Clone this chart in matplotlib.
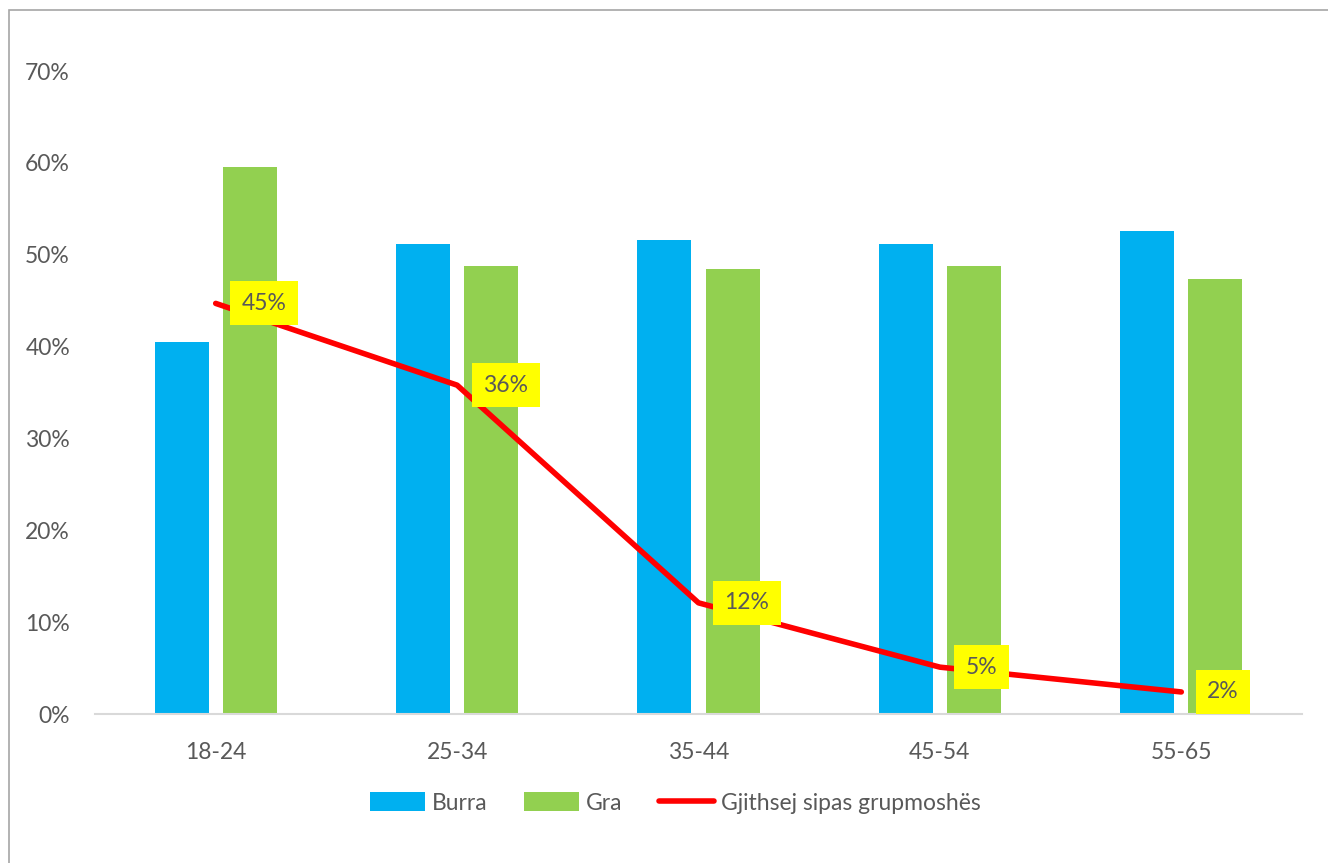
import matplotlib
matplotlib.use("Agg")
import matplotlib.pyplot as plt
import numpy as np
from matplotlib.patches import Rectangle
from matplotlib.ticker import PercentFormatter

categories = ["18-24", "25-34", "35-44", "45-54", "55-65"]
burra = [40.5, 51.2, 51.6, 51.2, 52.6]
gra = [59.5, 48.8, 48.4, 48.8, 47.4]
total = [44.7, 35.8, 12.1, 5.1, 2.4]
total_labels = ["45%", "36%", "12%", "5%", "2%"]

plt.rcParams['font.family'] = ['Lato', 'DejaVu Sans']

fig = plt.figure(figsize=(13.28, 8.63), dpi=100)
ax = fig.add_axes([95/1328, 1-714/863, (1302-95)/1328, (714-71)/863])

x = np.arange(len(categories))
w = 0.224
off = 0.141
hb = ax.bar(x - off, burra, w, color="#00B0F0", label="Burra")
hg = ax.bar(x + off, gra, w, color="#92D050", label="Gra")
hl, = ax.plot(x, total, color="#FF0000", lw=4.0, solid_capstyle="round",
              solid_joinstyle="round", label="Gjithsej sipas grupmoshës", zorder=3)

for xi, yi, lab in zip(x, total, total_labels):
    ax.annotate(lab, (xi, yi), xytext=(26, 0), textcoords="offset pixels",
                ha="left", va="center", fontsize=16.5, color="#595959",
                bbox=dict(boxstyle="square,pad=0.5", fc="#FFFF00", ec="none"),
                zorder=4)

ax.set_xlim(-0.5, len(categories) - 0.5)
ax.set_ylim(0, 70)
ax.set_yticks(np.arange(0, 71, 10))
ax.yaxis.set_major_formatter(PercentFormatter(decimals=0))
ax.set_xticks(x)
ax.set_xticklabels(categories)
ax.tick_params(axis="both", length=0, labelsize=16.5, labelcolor="#595959")
ax.tick_params(axis="y", pad=18)
ax.tick_params(axis="x", pad=20)
for s in ["top", "right", "left"]:
    ax.spines[s].set_visible(False)
ax.spines["bottom"].set_color("#D9D9D9")
ax.spines["bottom"].set_linewidth(1.5)

leg = fig.legend([hb, hg, hl], ["Burra", "Gra", "Gjithsej sipas grupmoshës"],
                 loc="center", bbox_to_anchor=(675/1328, 1-803/863), ncol=3,
                 frameon=False, fontsize=16.5, handlelength=2.4, handleheight=0.9,
                 columnspacing=1.6, handletextpad=0.3)
for t in leg.get_texts():
    t.set_color("#595959")

fig.patches.append(Rectangle((9/1328, -0.01), 1.0, 1 - 10/863 + 0.01,
                             transform=fig.transFigure, fill=False,
                             ec="#A6A6A6", lw=1.2))

fig.savefig("out.png", dpi=100)
